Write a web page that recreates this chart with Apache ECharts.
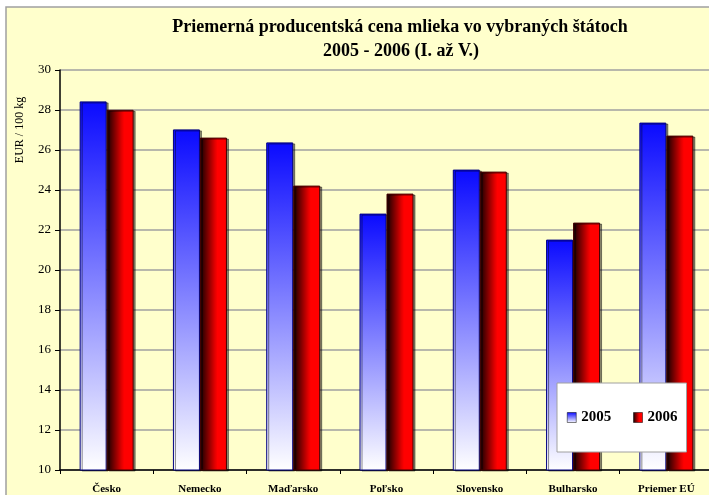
<!DOCTYPE html>
<html><head><meta charset="utf-8">
<script src="https://cdn.jsdelivr.net/npm/echarts@6/dist/echarts.min.js"></script>
<style>html,body{margin:0;padding:0;background:#fff;overflow:hidden;width:709px;height:495px}#c{position:absolute;left:0;top:0;width:730px;height:495px}</style>
</head><body><div id="c"></div>
<script>
const categories = ['Česko','Nemecko','Maďarsko','Poľsko','Slovensko','Bulharsko','Priemer EÚ'];
const values2005 = [28.43, 27.03, 26.38, 22.82, 25.02, 21.52, 27.37];
const values2006 = [28.01, 26.62, 24.22, 23.82, 24.92, 22.37, 26.72];
const seriesNames = ['2005','2006'];
const yTicks = {min: 10, max: 30, step: 2};

const FONT = "'Liberation Serif','Times New Roman',serif";
const chart = echarts.init(document.getElementById('c'), null, {renderer:'canvas'});
const blueGrad = new echarts.graphic.LinearGradient(0,0,0,1,[{offset:0,color:'#0a0aff'},{offset:1,color:'#ffffff'}]);
const redGrad = new echarts.graphic.LinearGradient(0,0,1,0,[{offset:0,color:'#100000'},{offset:0.55,color:'#e00000'},{offset:0.65,color:'#ff0000'},{offset:1,color:'#ff0000'}]);
chart.setOption({
  animation:false,
  textStyle:{fontFamily:FONT},
  graphic:[
    {type:'rect',z:-10,silent:true,shape:{x:6,y:7,width:800,height:600},style:{fill:'#FFFFCC',stroke:'#a0a0a0',lineWidth:1.5}},
    {type:'text',x:400,y:27,style:{text:'Priemerná producentská cena mlieka vo vybraných štátoch',font:'bold 18px '+FONT,fill:'#000',align:'center',verticalAlign:'middle'}},
    {type:'text',x:401,y:51,style:{text:'2005 - 2006 (I. až V.)',font:'bold 18px '+FONT,fill:'#000',align:'center',verticalAlign:'middle'}},
    {type:'text',x:20,y:130,rotation:Math.PI/2,style:{text:'EUR / 100 kg',font:'12px '+FONT,fill:'#000',align:'center',verticalAlign:'middle'}}
  ],
  grid:{left:60,top:70,width:653,height:400,containLabel:false},
  legend:{
    data:seriesNames,left:557,top:383,
    padding:[27,9,27,10],itemGap:22,itemWidth:9,itemHeight:10,icon:'rect',
    backgroundColor:'#ffffff',borderColor:'#a0a0a0',borderWidth:1,
    textStyle:{fontFamily:FONT,fontSize:15,fontWeight:'bold',color:'#000'},
    itemStyle:{borderColor:'#000',borderWidth:0.5}
  },
  xAxis:{
    type:'category',data:categories,
    axisLine:{lineStyle:{color:'#000',width:1.5}},
    axisTick:{show:true,length:4,lineStyle:{color:'#000'}},
    axisLabel:{fontFamily:FONT,fontSize:11,fontWeight:'bold',color:'#000',margin:14}
  },
  yAxis:{
    type:'value',min:yTicks.min,max:yTicks.max,interval:yTicks.step,
    axisLine:{show:true,lineStyle:{color:'#000',width:1.5}},
    axisTick:{show:true,length:5,lineStyle:{color:'#000'}},
    axisLabel:{fontFamily:FONT,fontSize:13,color:'#000',margin:9},
    splitLine:{lineStyle:{color:'#a0a0a0',width:1.5}}
  },
  series:[
    {name:seriesNames[0],type:'bar',data:values2005,barWidth:27,barGap:'0%',
     itemStyle:{color:blueGrad,borderColor:'#000080',borderWidth:1,shadowColor:'rgba(0,0,0,0.45)',shadowOffsetX:2,shadowOffsetY:1}},
    {name:seriesNames[1],type:'bar',data:values2006,barWidth:27,barGap:'0%',
     itemStyle:{color:redGrad,borderColor:'#400000',borderWidth:1,shadowColor:'rgba(0,0,0,0.45)',shadowOffsetX:2,shadowOffsetY:1}}
  ]
});
</script></body></html>
